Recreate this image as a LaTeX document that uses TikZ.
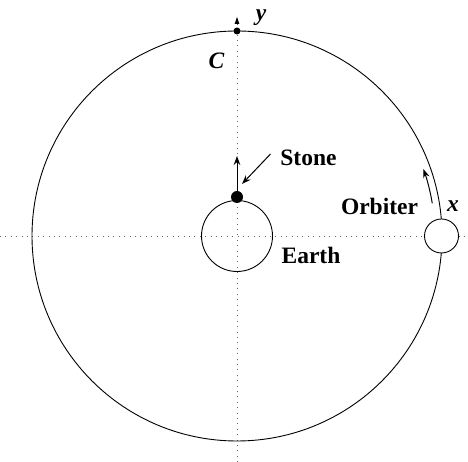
\documentclass[tikz,border=0pt]{standalone}
\usepackage{fontspec}
\setmainfont{Liberation Serif}
\usetikzlibrary{arrows.meta}
\begin{document}
\begin{tikzpicture}[x=1pt,y=1pt,
  axis/.style={gray!80!black, line width=0.8pt, dash pattern=on 0.8pt off 4.6pt},
  lbl/.style={font=\fontsize{23.5}{26}\selectfont\bfseries, inner sep=0pt},
  ilbl/.style={font=\fontsize{23.5}{26}\selectfont\bfseries\itshape, inner sep=0pt},
  arr/.style={-{Stealth[length=9pt,width=6.5pt]}, line width=1pt},
  ring/.style={draw, line width=0.9pt, circle, inner sep=0pt}]
\useasboundingbox (0,0) rectangle (468,462);
\coordinate (O) at (237,226);
\coordinate (L) at (0,226);
\coordinate (R) at (468,226);
\coordinate (B) at (237,0);
\coordinate (T) at (237,445);
% axes
\draw[axis] (L) -- (R);
\draw[axis] (B) -- (237,438);
\fill (T) -- (234.6,438) -- (239.4,438) -- cycle;
% big orbit
\draw[line width=0.9pt] (O) circle (205);
\node[circle, fill, minimum size=7pt, inner sep=0pt] (top) at (237,431) {};
% earth
\node[ring, minimum size=71pt] (earth) at (O) {};
\node[circle, fill, minimum size=12pt, inner sep=0pt] (stone) at (237,265) {};
\coordinate (stip) at (237,306);
\draw[arr] (stone.north) -- (stip);
\node[lbl] (stonelbl) at (308.5,304) {Stone};
\coordinate (sa) at (270.5,308);
\coordinate (sb) at (242,278);
\draw[arr] (sa) -- (sb);
\node[lbl] (earthlbl) at (311,207) {Earth};
% orbiter
\node[ring, fill=white, minimum size=34pt] (orb) at (441.5,226) {};
\draw[arr] ([shift={(9.5:198)}]O) arc (9.5:19.8:198);
\node[lbl] (orblbl) at (379.5,255.5) {Orbiter};
\node[ilbl] (xl) at (453,256) {x};
\node[ilbl] (yl) at (261,444) {y};
\node[ilbl] (cl) at (216.5,401) {C};
\end{tikzpicture}
\end{document}
